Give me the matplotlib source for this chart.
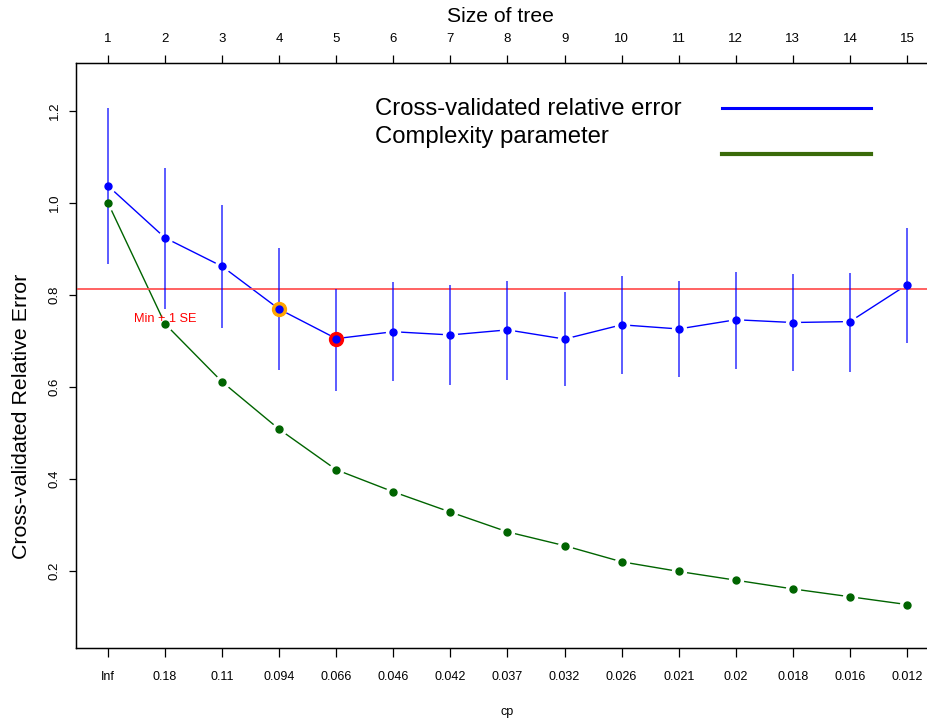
import matplotlib
matplotlib.use("Agg")
import matplotlib.pyplot as plt
from matplotlib.lines import Line2D

plt.rcParams['font.family'] = ['Liberation Sans', 'DejaVu Sans']

# ---- data ----
tree_size = [1, 2, 3, 4, 5, 6, 7, 8, 9, 10, 11, 12, 13, 14, 15]
cp_labels = ["Inf", "0.18", "0.11", "0.094", "0.066", "0.046", "0.042", "0.037",
             "0.032", "0.026", "0.021", "0.02", "0.018", "0.016", "0.012"]
xerror = [1.037, 0.924, 0.862, 0.769, 0.705, 0.720, 0.713, 0.724, 0.704, 0.735,
          0.726, 0.746, 0.740, 0.742, 0.822]
xerr_upper = [1.206, 1.075, 0.996, 0.902, 0.813, 0.829, 0.822, 0.830, 0.807, 0.840,
              0.830, 0.850, 0.846, 0.848, 0.946]
xerr_lower = [0.867, 0.770, 0.728, 0.637, 0.591, 0.612, 0.604, 0.614, 0.601, 0.628,
              0.622, 0.638, 0.635, 0.633, 0.696]
cp_scaled = [1.000, 0.737, 0.611, 0.508, 0.420, 0.372, 0.328, 0.285, 0.255, 0.220,
             0.199, 0.180, 0.161, 0.144, 0.127]
min_plus_1se = 0.813
best_idx = 4      # red highlighted (minimum)
onese_idx = 3     # orange highlighted (1-SE choice)
y_ticks = [0.2, 0.4, 0.6, 0.8, 1.0, 1.2]

BLUE = "#0000ff"
GREEN = "#006400"
LEG_GREEN = "#3a6b0a"

fig = plt.figure(figsize=(9.28, 7.24), dpi=100)
ax = fig.add_axes([76/928, 1-648/724, (939-76)/928, (648-63)/724])

# lines with R type="b" style gaps
ax.plot(tree_size, xerror, color=BLUE, lw=1.0, zorder=2)
ax.plot(tree_size, cp_scaled, color=GREEN, lw=1.0, zorder=2)
ax.plot(tree_size, xerror, 'o', ms=10, color='white', mec='white', zorder=3)
ax.plot(tree_size, cp_scaled, 'o', ms=10, color='white', mec='white', zorder=3)

# min + 1 SE line
ax.axhline(min_plus_1se, color="#ff5555", lw=1.3, zorder=4)
ax.text(tree_size[1], min_plus_1se - 0.066, "Min + 1 SE", color="#ff0000",
        fontsize=9.2, ha='center', va='center', zorder=8)

# error bars
ax.vlines(tree_size, xerr_lower, xerr_upper, color=BLUE, lw=1.2, alpha=0.75, zorder=5)

# highlights
ax.plot(tree_size[onese_idx], xerror[onese_idx], 'o', ms=10, color='orange', zorder=6)
ax.plot(tree_size[best_idx], xerror[best_idx], 'o', ms=10, color='red', zorder=6)

# points
ax.plot(tree_size, xerror, 'o', ms=5, color=BLUE, mec=BLUE, zorder=7)
ax.plot(tree_size, cp_scaled, 'o', ms=5, color=GREEN, mec=GREEN, zorder=7)

ax.set_xlim(0.44, 15.56)
ax.set_ylim(0.0326, 1.304)
ax.spines['right'].set_visible(False)
for s in ['left', 'top', 'bottom']:
    ax.spines[s].set_linewidth(1.0)

ax.set_xticks(tree_size)
ax.set_xticklabels(cp_labels, fontsize=9)
ax.tick_params(axis='x', length=6.5, width=0.9, pad=10)
ax.set_yticks(y_ticks)
ax.set_yticklabels([f"{v:.1f}" for v in y_ticks], fontsize=9.5, rotation=90, va='center')
ax.tick_params(axis='y', length=5, width=0.9, pad=6)

ax2 = ax.twiny()
ax2.set_xlim(ax.get_xlim())
ax2.set_xticks(tree_size)
ax2.set_xticklabels([str(s) for s in tree_size], fontsize=9.5)
ax2.tick_params(axis='x', length=6, width=0.9, pad=7)
ax2.spines['right'].set_visible(False)

fig.text(500/928, 1-16/724, "Size of tree", fontsize=15.2, ha='center', va='center')
fig.text(507/928, 1-712/724, "cp", fontsize=9, ha='center', va='center')
fig.text(22/928, 1-416/724, "Cross-validated Relative Error", fontsize=15.4,
         rotation=90, ha='center', va='center')

# legend (manual, R-style)
fig.text(375/928, 1-109/724, "Cross-validated relative error", fontsize=17.2,
         ha='left', va='center')
fig.text(375/928, 1-137/724, "Complexity parameter", fontsize=17.2,
         ha='left', va='center')
fig.add_artist(Line2D([722/928, 871/928], [1-108/724, 1-108/724], color=BLUE, lw=2.2,
                      transform=fig.transFigure))
fig.add_artist(Line2D([722/928, 871/928], [1-154/724, 1-154/724], color=LEG_GREEN, lw=3,
                      transform=fig.transFigure))

fig.savefig("out.png", dpi=100)
